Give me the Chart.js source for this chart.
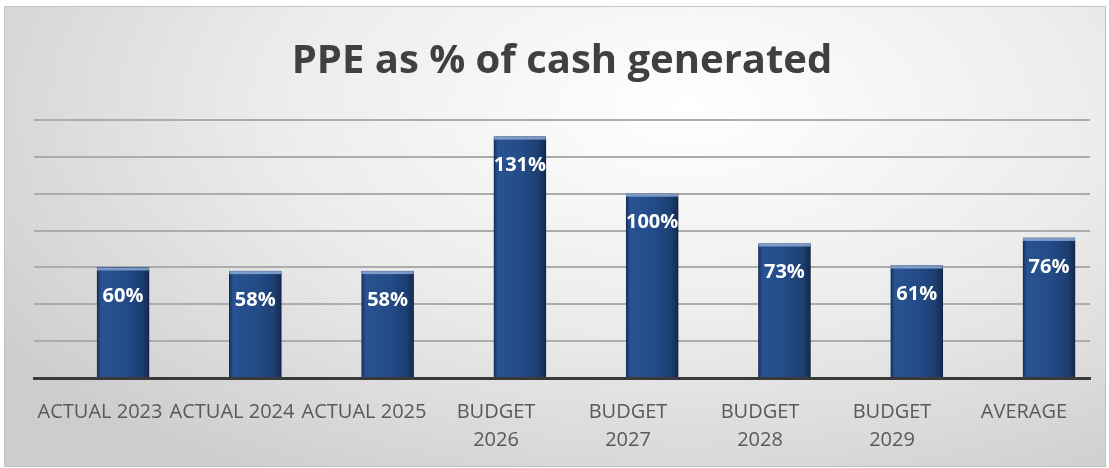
<!DOCTYPE html>
<html>
<head>
<meta charset="utf-8">
<script src="https://cdn.jsdelivr.net/npm/chart.js@4.4.1/dist/chart.umd.min.js"></script>
<style>
  html, body { margin: 0; padding: 0; background: #fff; }
  #frame {
    position: absolute; left: 4px; top: 6px; width: 1100px; height: 459px;
    border: 1px solid #c4c4c4;
    background: radial-gradient(ellipse 75% 95% at 62% 22%, #ffffff 0%, #ececec 50%, #cdcdcd 100%);
  }
  #wrap { position: absolute; left: 0; top: 0; width: 1109px; height: 468px; }
</style>
</head>
<body>
<div id="frame"></div>
<div id="wrap"><canvas id="chart"></canvas></div>
<script>
// data
const titleText = 'PPE as % of cash generated';
const categories = ['ACTUAL 2023', 'ACTUAL 2024', 'ACTUAL 2025', ['BUDGET', '2026'], ['BUDGET', '2027'], ['BUDGET', '2028'], ['BUDGET', '2029'], 'AVERAGE'];
const ppePct = [60, 58, 58, 131, 100, 73, 61, 76];
const yMin = 0, yMax = 140, yStep = 20;

const BAR_W = 52;

// bars sit a bit right of the label centres in the original, so they use their own hidden axis
function barFill(ctx) {
    const chart = ctx.chart;
    const xs = chart.scales.xb;
    if (ctx.type !== 'data' || !xs || !chart.chartArea) return '#21487f';
    const cx = xs.getPixelForValue(ctx.dataIndex);
    const g = chart.ctx.createLinearGradient(cx - BAR_W / 2, 0, cx + BAR_W / 2, 0);
    g.addColorStop(0, '#17345f');
    g.addColorStop(0.08, '#285291');
    g.addColorStop(0.55, '#234b86');
    g.addColorStop(0.85, '#1d3f72');
    g.addColorStop(1, '#132a50');
    return g;
}

const barShadow = {
    id: 'barShadow',
    beforeDatasetDraw(chart) {
        const c = chart.ctx;
        c.save();
        c.shadowColor = 'rgba(0,0,0,0.35)';
        c.shadowOffsetX = 2;
        c.shadowOffsetY = 1;
        c.shadowBlur = 3;
    },
    afterDatasetDraw(chart) { chart.ctx.restore(); }
};

const barLabels = {
    id: 'barLabels',
    afterDatasetsDraw(chart) {
        const c = chart.ctx;
        const meta = chart.getDatasetMeta(0);
        c.save();
        meta.data.forEach((bar, i) => {
            // light bevel along the top
            c.fillStyle = 'rgba(140,170,215,0.85)';
            c.fillRect(bar.x - BAR_W / 2, bar.y, BAR_W, 3);
            c.fillStyle = '#ffffff';
            c.font = 'bold 20px "Open Sans"';
            c.textAlign = 'center';
            c.textBaseline = 'middle';
            c.fillText(ppePct[i] + '%', bar.x, bar.y + 29);
        });
        c.restore();
    }
};

const bigTitle = {
    id: 'bigTitle',
    afterDraw(chart) {
        const c = chart.ctx;
        c.save();
        c.font = 'bold 40px "Open Sans"';
        c.fillStyle = '#404040';
        c.textAlign = 'center';
        c.textBaseline = 'alphabetic';
        c.fillText(titleText, 562, 73);
        c.restore();
    }
};

new Chart(document.getElementById('chart'), {
    type: 'bar',
    data: {
        labels: categories,
        datasets: [{
            data: ppePct.map((v, i) => ({ x: i, y: v })),
            xAxisID: 'xb',
            backgroundColor: barFill,
            borderColor: '#142d55',
            borderWidth: 1,
            barThickness: BAR_W
        }]
    },
    options: {
        responsive: true,
        maintainAspectRatio: false,
        animation: false,
        layout: { padding: { left: 34, right: 19, top: 120, bottom: 0 } },
        plugins: { legend: { display: false }, tooltip: { enabled: false }, title: { display: false } },
        scales: {
            x: {
                type: 'category',
                position: 'bottom',
                offset: true,
                grid: { display: false },
                border: { display: true, color: '#3a3a3a', width: 3 },
                ticks: {
                    color: '#595959',
                    font: { family: 'Open Sans', size: 20, lineHeight: 1.4 },
                    maxRotation: 0, minRotation: 0, autoSkip: false,
                    padding: 12
                },
                afterFit(s) { s.height = 90; }
            },
            xb: {
                type: 'linear',
                display: false,
                offset: false,
                grid: { offset: false },
                min: -0.673,
                max: 7.31
            },
            y: {
                min: yMin, max: yMax,
                ticks: { stepSize: yStep, display: false },
                grid: { color: '#acacac', lineWidth: 2, drawTicks: false },
                border: { display: false },
                afterFit(s) { s.width = 0; }
            }
        }
    },
    plugins: [barShadow, barLabels, bigTitle]
});
</script>
</body>
</html>
